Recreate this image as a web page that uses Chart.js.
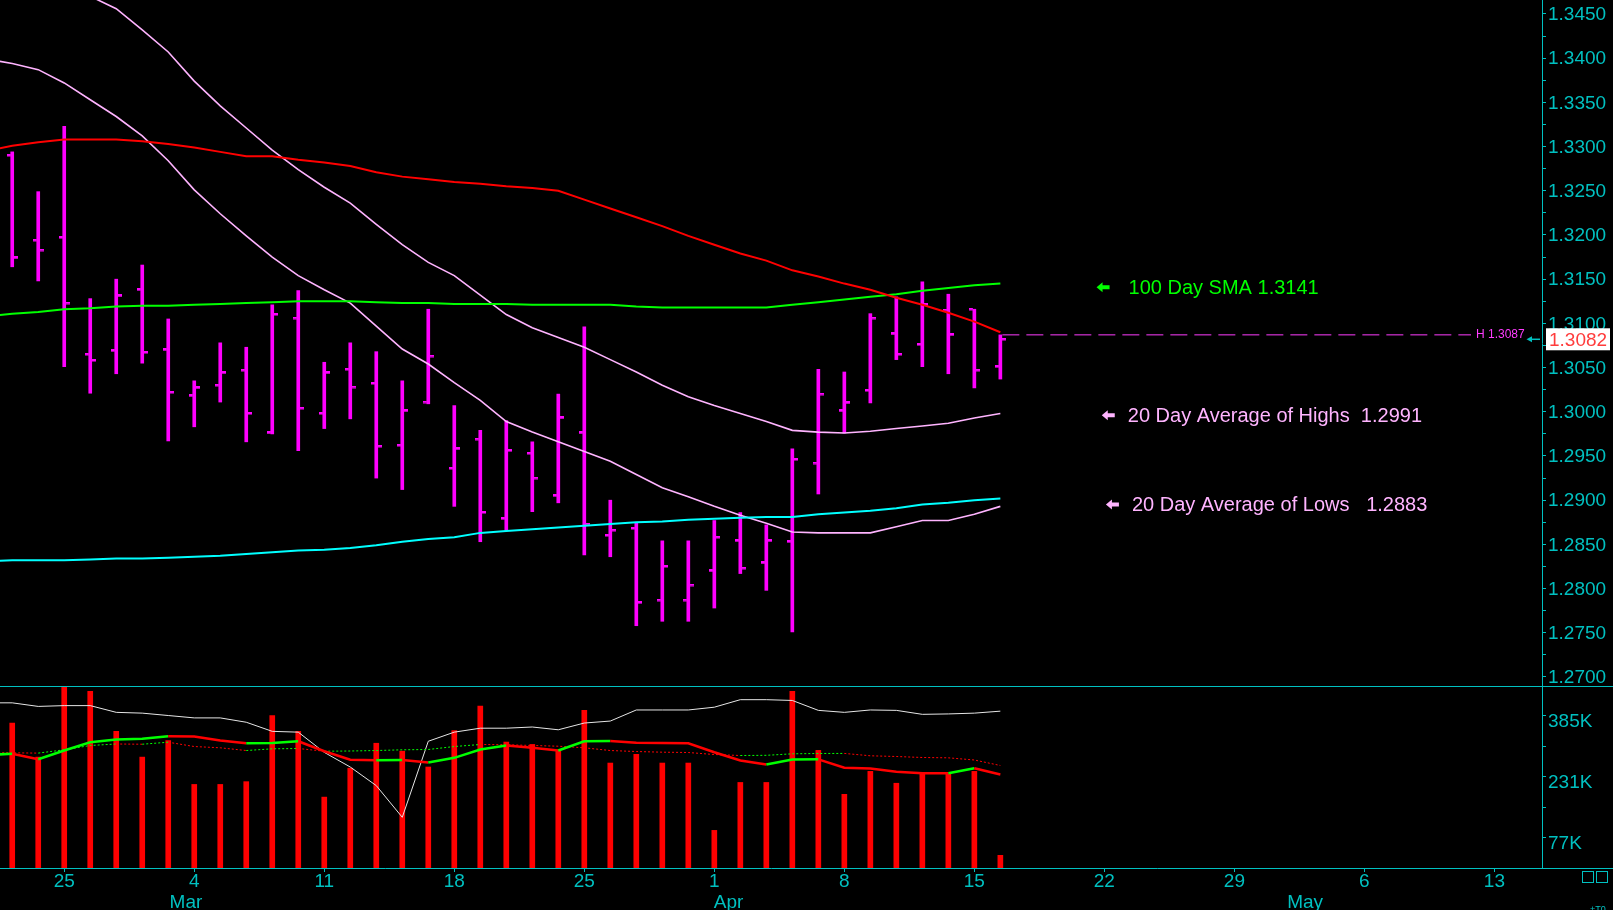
<!DOCTYPE html>
<html>
<head>
<meta charset="utf-8">
<title>EUR/USD daily</title>
<script src="https://cdn.jsdelivr.net/npm/chart.js@4.4.1/dist/chart.umd.min.js"></script>
<style>
  html, body { margin: 0; padding: 0; background: #000; overflow: hidden; }
  #wrap { position: relative; width: 1613px; height: 910px; background: #000; }
  #priceBox { position: absolute; left: 0; top: 0; width: 1613px; height: 686px; }
  #volBox { position: absolute; left: 0; top: 687px; width: 1613px; height: 223px; }
  .rule { position: absolute; height: 1px; background: #00c0c0; }
</style>
</head>
<body>
<div id="wrap">
  <div id="priceBox"><canvas id="price"></canvas></div>
  <div class="rule" style="left:0; top:686px; width:1613px"></div>
  <div id="volBox"><canvas id="vol"></canvas></div>
  <div class="rule" style="left:1542px; top:868px; width:71px"></div>
</div>
<script>
// sessions on the chart (x = session index)
const sessions = ['Feb 21', 'Feb 22', 'Feb 25', 'Feb 26', 'Feb 27', 'Feb 28', 'Mar 1',
  'Mar 4', 'Mar 5', 'Mar 6', 'Mar 7', 'Mar 8', 'Mar 11', 'Mar 12', 'Mar 13', 'Mar 14', 'Mar 15',
  'Mar 18', 'Mar 19', 'Mar 20', 'Mar 21', 'Mar 22', 'Mar 25', 'Mar 26', 'Mar 27', 'Mar 28', 'Mar 29',
  'Apr 1', 'Apr 2', 'Apr 3', 'Apr 4', 'Apr 5', 'Apr 8', 'Apr 9', 'Apr 10', 'Apr 11', 'Apr 12',
  'Apr 15', 'Apr 16'];

const opens = [1.3290, 1.3194, 1.3197, 1.3065, 1.3069, 1.3138, 1.3070, 1.3018, 1.3030, 1.3047,
  1.2976, 1.3106, 1.2998, 1.3048, 1.3032, 1.2962, 1.3011, 1.2936, 1.2969, 1.2879,
  1.2953, 1.2905, 1.2976, 1.2860, 1.2868, 1.2787, 1.2787, 1.2820, 1.2854, 1.2829,
  1.2853, 1.2942, 1.3001, 1.3024, 1.3088, 1.3076, 1.3115, 1.3116, 1.3051];
const highs = [1.3294, 1.3249, 1.3323, 1.3128, 1.3150, 1.3166, 1.3105, 1.3035, 1.3078, 1.3073,
  1.3121, 1.3137, 1.3056, 1.3078, 1.3068, 1.3035, 1.3116, 1.3007, 1.2979, 1.2990,
  1.2966, 1.3020, 1.3096, 1.2900, 1.2875, 1.2854, 1.2854, 1.2877, 1.2886, 1.2872,
  1.2958, 1.3048, 1.3045, 1.3111, 1.3130, 1.3147, 1.3133, 1.3116, 1.3087];
const lows = [1.3164, 1.3148, 1.3051, 1.3021, 1.3043, 1.3055, 1.2967, 1.2983, 1.3011, 1.2966,
  1.2975, 1.2956, 1.2981, 1.2992, 1.2925, 1.2912, 1.3009, 1.2893, 1.2853, 1.2866,
  1.2887, 1.2897, 1.2838, 1.2836, 1.2758, 1.2763, 1.2763, 1.2778, 1.2817, 1.2798,
  1.2751, 1.2907, 1.2976, 1.3010, 1.3059, 1.3051, 1.3043, 1.3027, 1.3037];
const closes = [1.3174, 1.3183, 1.3123, 1.3058, 1.3131, 1.3067, 1.3022, 1.3027, 1.3044, 1.2998,
  1.3110, 1.3004, 1.3044, 1.3028, 1.2961, 1.3001, 1.3063, 1.2958, 1.2886, 1.2956,
  1.2925, 1.2993, 1.2873, 1.2866, 1.2784, 1.2825, 1.2804, 1.2858, 1.2823, 1.2854,
  1.2946, 1.3020, 1.3010, 1.3106, 1.3065, 1.3121, 1.3087, 1.3047, 1.3082];

// studies start one session earlier (Feb 20)
const studyStart = -1;
const smaRed = [1.3295, 1.3301, 1.3305, 1.3308, 1.3308, 1.3308, 1.3306, 1.3303, 1.3299, 1.3294,
  1.3289, 1.3289, 1.3285, 1.3282, 1.3278, 1.3271, 1.3266, 1.3263, 1.3260, 1.3258,
  1.3255, 1.3253, 1.3250, 1.3240, 1.3230, 1.3220, 1.3210, 1.3199, 1.3189, 1.3179,
  1.3171, 1.3160, 1.3153, 1.3145, 1.3138, 1.3129, 1.3121, 1.3112, 1.3102, 1.3090];
const sma100 = [1.3108, 1.3111, 1.3113, 1.3116, 1.3117, 1.3119, 1.3120, 1.3120, 1.3121, 1.3122,
  1.3123, 1.3124, 1.3125, 1.3125, 1.3125, 1.3124, 1.3123, 1.3123, 1.3122, 1.3122,
  1.3122, 1.3121, 1.3121, 1.3121, 1.3121, 1.3119, 1.3118, 1.3118, 1.3118, 1.3118,
  1.3118, 1.3121, 1.3124, 1.3127, 1.3130, 1.3133, 1.3137, 1.3140, 1.3143, 1.3145];
const smaCyan = [1.2831, 1.2832, 1.2832, 1.2832, 1.2833, 1.2834, 1.2834, 1.2835, 1.2836, 1.2837,
  1.2839, 1.2841, 1.2843, 1.2844, 1.2846, 1.2849, 1.2853, 1.2856, 1.2858, 1.2863,
  1.2865, 1.2867, 1.2869, 1.2871, 1.2873, 1.2875, 1.2876, 1.2878, 1.2879, 1.2880,
  1.2881, 1.2881, 1.2884, 1.2886, 1.2888, 1.2891, 1.2895, 1.2897, 1.2900, 1.2902];
const avgHighs = [1.3529, 1.3515, 1.3500, 1.3485, 1.3470, 1.3456, 1.3432, 1.3407, 1.3374, 1.3346,
  1.3321, 1.3296, 1.3274, 1.3254, 1.3236, 1.3212, 1.3189, 1.3169, 1.3154, 1.3132,
  1.3110, 1.3095, 1.3084, 1.3073, 1.3059, 1.3045, 1.3030, 1.3017, 1.3007, 1.2998,
  1.2989, 1.2979, 1.2977, 1.2976, 1.2978, 1.2981, 1.2984, 1.2987, 1.2993, 1.2998];
const avgLows = [1.3399, 1.3394, 1.3387, 1.3372, 1.3353, 1.3334, 1.3312, 1.3284, 1.3251, 1.3224,
  1.3199, 1.3175, 1.3154, 1.3138, 1.3123, 1.3097, 1.3071, 1.3054, 1.3033, 1.3013,
  1.2989, 1.2977, 1.2966, 1.2955, 1.2944, 1.2929, 1.2914, 1.2904, 1.2893, 1.2883,
  1.2874, 1.2864, 1.2863, 1.2863, 1.2863, 1.2870, 1.2877, 1.2877, 1.2884, 1.2893];

// volume panel, thousands
const volumeK = [366, 280, 456, 446, 345, 280, 322, 211, 211, 218, 385, 345, 179, 252, 315, 295,
  255, 347, 409, 318, 312, 297, 398, 265, 287, 265, 265, 95, 216, 216, 446, 297, 186, 244,
  214, 238, 238, 244, 32];
const openInterest = [417, 417, 408, 410, 410, 393, 391, 385, 379, 379, 368, 345, 343, 292, 255,
  208, 128, 320, 343, 353, 353, 356, 349, 366, 371, 399, 399, 399, 406, 425, 425, 423, 398,
  393, 399, 398, 388, 389, 391, 396];
const volAvgFast = [285.3, 288.3, 274.7, 296.6, 317.6, 324.4, 326.2, 332.7, 332.0, 321.9, 315.1,
  315.6, 320.1, 294.9, 273.2, 272.2, 272.7, 266.3, 278.2, 299.2, 309.3, 303.5, 296.6, 320.1,
  320.6, 316.1, 315.6, 315.1, 292.4, 271.4, 261.3, 273.9, 274.4, 253.0, 251.2, 242.9, 239.3,
  239.1, 252.0, 236.1];
const volAvgSlow = [291.6, 290.8, 290.1, 298.4, 309.3, 313.1, 312.5, 317.6, 306.7, 303.5, 296.6,
  300.9, 301.7, 294.9, 295.4, 296.6, 298.4, 299.2, 306.7, 311.8, 311.3, 309.3, 307.5, 303.5,
  296.6, 294.1, 292.4, 291.6, 286.5, 284.0, 284.5, 288.3, 289.1, 289.3, 283.3, 281.5, 279.0,
  278.2, 272.7, 258.8];

// axis labels
const priceLabels = ['1.2700', '1.2750', '1.2800', '1.2850', '1.2900', '1.2950', '1.3000', '1.3050',
  '1.3100', '1.3150', '1.3200', '1.3250', '1.3300', '1.3350', '1.3400', '1.3450'];
const volumeLabels = ['77K', '231K', '385K'];
const weekTicks = [2, 7, 12, 17, 22, 27, 32, 37, 42, 47, 52, 57];
const dayLabels = ['25', '4', '11', '18', '25', '1', '8', '15', '22', '29', '6', '13'];
const monthAt = [6.68, 27.55, 49.72];
const monthLabels = ['Mar', 'Apr', 'May'];

const notes = [
  { text: '100 Day SMA 1.3141', color: '#00ff00', at: 41.7, level: 1.3141, gap: 32 },
  { text: '20 Day Average of Highs  1.2991', color: '#ffb4ff', at: 41.9, level: 1.2996, gap: 26 },
  { text: '20 Day Average of Lows   1.2883', color: '#ffb4ff', at: 42.06, level: 1.2895, gap: 26 }
];

const xMin = -0.47, xMax = 58.83;
const priceMin = 1.26898, priceMax = 1.34658;
const volMax = 457;

const AXIS = '#00c0c0';
const FONT = '"Liberation Sans", Arial, sans-serif';
const MAGENTA = '#ff00ff';
const PINK = '#ffb4ff';

Chart.defaults.font.family = FONT;
Chart.defaults.color = AXIS;

// open tick sits left of the bar, close tick right of it
function tickImage(left) {
    const c = document.createElement('canvas');
    c.width = 11; c.height = 3;
    const g = c.getContext('2d');
    const x0 = left ? 0 : 7;
    g.fillStyle = MAGENTA;
    g.fillRect(x0, 0, 4, 2);
    g.globalAlpha = 0.5;
    g.fillRect(x0, 2, 4, 1);
    return c;
}

function series(values, start) {
    return values.map((v, i) => ({ x: i + start, y: v }));
}

function lineSet(values, color, width, extra) {
    return Object.assign({
        type: 'line',
        data: series(values, studyStart),
        borderColor: color,
        borderWidth: width,
        pointRadius: 0,
        tension: 0,
        fill: false,
        order: 1
    }, extra || {});
}

function leftArrow(ctx, x, y) {
    ctx.beginPath();
    ctx.moveTo(x, y);
    ctx.lineTo(x + 6, y - 5);
    ctx.lineTo(x + 6, y - 2);
    ctx.lineTo(x + 13, y - 2);
    ctx.lineTo(x + 13, y + 2);
    ctx.lineTo(x + 6, y + 2);
    ctx.lineTo(x + 6, y + 5);
    ctx.closePath();
    ctx.fill();
}

const rising = c => c.p1.parsed.y > c.p0.parsed.y ? '#00ff00' : '#ff0000';

const priceNotes = {
    id: 'priceNotes',
    afterDatasetsDraw(chart) {
        const { ctx, chartArea: area, scales: { x, y } } = chart;
        const last = highs.length - 1;
        ctx.save();
        const yHi = y.getPixelForValue(highs[last]);
        ctx.strokeStyle = '#ff3cff';
        ctx.lineWidth = 1;
        ctx.setLineDash([17, 7]);
        ctx.beginPath();
        ctx.moveTo(x.getPixelForValue(last) + 2, yHi);
        ctx.lineTo(area.right - 71, yHi);
        ctx.stroke();
        ctx.setLineDash([]);
        ctx.fillStyle = '#ff3cff';
        ctx.font = '12px ' + FONT;
        ctx.textBaseline = 'middle';
        ctx.fillText('H ' + highs[last].toFixed(4), area.right - 66, yHi);

        ctx.font = '20px ' + FONT;
        notes.forEach(n => {
            const ax = x.getPixelForValue(n.at);
            const ay = y.getPixelForValue(n.level);
            ctx.fillStyle = n.color;
            leftArrow(ctx, ax, ay);
            ctx.fillText(n.text, ax + n.gap, ay + 1);
        });
        ctx.restore();
    },
    afterDraw(chart) {
        const { ctx, chartArea: area, scales: { y } } = chart;
        const last = closes[closes.length - 1];
        const yC = y.getPixelForValue(last);
        ctx.save();
        ctx.fillStyle = '#ffffff';
        ctx.fillRect(area.right + 4, yC - 11, 64, 22);
        ctx.fillStyle = '#ff3c3c';
        ctx.font = '19px ' + FONT;
        ctx.textBaseline = 'middle';
        ctx.fillText(last.toFixed(4), area.right + 7, yC + 1);
        ctx.fillStyle = AXIS;
        ctx.strokeStyle = AXIS;
        ctx.beginPath();
        ctx.moveTo(area.right - 15.5, yC);
        ctx.lineTo(area.right - 10, yC - 3);
        ctx.lineTo(area.right - 10, yC + 3);
        ctx.closePath();
        ctx.fill();
        ctx.lineWidth = 1.5;
        ctx.beginPath();
        ctx.moveTo(area.right - 10, yC);
        ctx.lineTo(area.right - 2, yC);
        ctx.stroke();
        ctx.restore();
    }
};

const cornerMarks = {
    id: 'cornerMarks',
    afterDraw(chart) {
        const { ctx, chartArea: area } = chart;
        ctx.save();
        ctx.strokeStyle = AXIS;
        ctx.lineWidth = 1;
        ctx.strokeRect(area.right + 40.5, area.bottom + 3.5, 11, 11);
        ctx.strokeRect(area.right + 54.5, area.bottom + 3.5, 11, 11);
        ctx.fillStyle = AXIS;
        ctx.font = '9px ' + FONT;
        ctx.textBaseline = 'top';
        ctx.fillText('+T0', area.right + 48, area.bottom + 37);
        ctx.restore();
    }
};

const majorPrices = priceLabels.map(Number);
const priceTicks = [];
majorPrices.forEach((v, i) => {
    priceTicks.push(v);
    if (i < majorPrices.length - 1) priceTicks.push((v + majorPrices[i + 1]) / 2);
});
const majorVols = volumeLabels.map(s => parseFloat(s));
const volTicks = [];
majorVols.forEach((v, i) => {
    volTicks.push(v);
    if (i < majorVols.length - 1) volTicks.push((v + majorVols[i + 1]) / 2);
});

function fixWidth(s) { s.width = 71; s.paddingTop = 0; s.paddingBottom = 0; }

new Chart(document.getElementById('price'), {
    type: 'bar',
    data: {
        datasets: [
            lineSet(smaRed, '#ff0000', 2),
            lineSet(sma100, '#00ff00', 2),
            lineSet(smaCyan, '#00ffff', 2),
            lineSet(avgHighs, PINK, 1.6),
            lineSet(avgLows, PINK, 1.6),
            {
                type: 'scatter',
                data: series(opens, 0),
                pointStyle: tickImage(true),
                pointRadius: 3,
                order: 2
            },
            {
                type: 'scatter',
                data: series(closes, 0),
                pointStyle: tickImage(false),
                pointRadius: 3,
                order: 2
            },
            {
                type: 'bar',
                data: sessions.map((s, i) => ({ x: i, y: [lows[i], highs[i]] })),
                backgroundColor: MAGENTA,
                barThickness: 3,
                order: 3
            }
        ]
    },
    options: {
        responsive: true,
        maintainAspectRatio: false,
        animation: false,
        layout: { padding: 0, autoPadding: false },
        plugins: { legend: { display: false }, tooltip: { enabled: false } },
        scales: {
            x: { type: 'linear', display: false, min: xMin, max: xMax, offset: false, grid: { offset: false } },
            y: {
                position: 'right',
                min: priceMin,
                max: priceMax,
                afterBuildTicks: s => { s.ticks = priceTicks.map(v => ({ value: v })); },
                afterFit: fixWidth,
                ticks: {
                    color: AXIS,
                    font: { size: 19, lineHeight: 1 },
                    padding: 2,
                    labelOffset: 1,
                    autoSkip: false,
                    callback: (v, i) => i % 2 === 0 ? priceLabels[i / 2] : ''
                },
                grid: { drawOnChartArea: false, color: AXIS, tickLength: 4 },
                border: { color: AXIS }
            }
        }
    },
    plugins: [priceNotes]
});

new Chart(document.getElementById('vol'), {
    type: 'bar',
    data: {
        datasets: [
            lineSet(volAvgFast, '#ff0000', 2.5, { segment: { borderColor: rising }, order: 1 }),
            lineSet(volAvgSlow, '#ff0000', 1, { segment: { borderColor: rising }, borderDash: [2, 2], order: 2 }),
            lineSet(openInterest, '#e6e6e6', 1, { order: 3 }),
            {
                type: 'bar',
                data: series(volumeK, 0),
                backgroundColor: '#ff0000',
                barThickness: 5,
                order: 4
            }
        ]
    },
    options: {
        responsive: true,
        maintainAspectRatio: false,
        animation: false,
        layout: { padding: 0, autoPadding: false },
        plugins: { legend: { display: false }, tooltip: { enabled: false } },
        scales: {
            x: {
                type: 'linear',
                position: 'bottom',
                min: xMin,
                max: xMax,
                offset: false,
                weight: 0,
                afterBuildTicks: s => { s.ticks = weekTicks.map(v => ({ value: v })); },
                afterFit: s => { s.height = 24; s.paddingLeft = 0; s.paddingRight = 0; },
                ticks: {
                    color: AXIS,
                    font: { size: 19, lineHeight: 1 },
                    padding: 0,
                    autoSkip: false,
                    maxRotation: 0,
                    callback: (v, i) => dayLabels[i]
                },
                grid: { drawOnChartArea: false, color: AXIS, tickLength: 4, offset: false },
                border: { color: AXIS }
            },
            xm: {
                type: 'linear',
                position: 'bottom',
                min: xMin,
                max: xMax,
                offset: false,
                weight: 1,
                afterBuildTicks: s => { s.ticks = monthAt.map(v => ({ value: v })); },
                afterFit: s => { s.height = 18; s.paddingLeft = 0; s.paddingRight = 0; },
                ticks: {
                    color: AXIS,
                    font: { size: 19, lineHeight: 1 },
                    padding: 1,
                    autoSkip: false,
                    maxRotation: 0,
                    callback: (v, i) => monthLabels[i]
                },
                grid: { display: false, drawTicks: false },
                border: { display: false }
            },
            y: {
                position: 'right',
                min: 0,
                max: volMax,
                afterBuildTicks: s => { s.ticks = volTicks.map(v => ({ value: v })); },
                afterFit: fixWidth,
                ticks: {
                    color: AXIS,
                    font: { size: 19, lineHeight: 1 },
                    padding: 2,
                    labelOffset: 6,
                    autoSkip: false,
                    callback: (v, i) => i % 2 === 0 ? volumeLabels[i / 2] : ''
                },
                grid: { drawOnChartArea: false, color: AXIS, tickLength: 4 },
                border: { color: AXIS }
            }
        }
    },
    plugins: [cornerMarks]
});
</script>
</body>
</html>
